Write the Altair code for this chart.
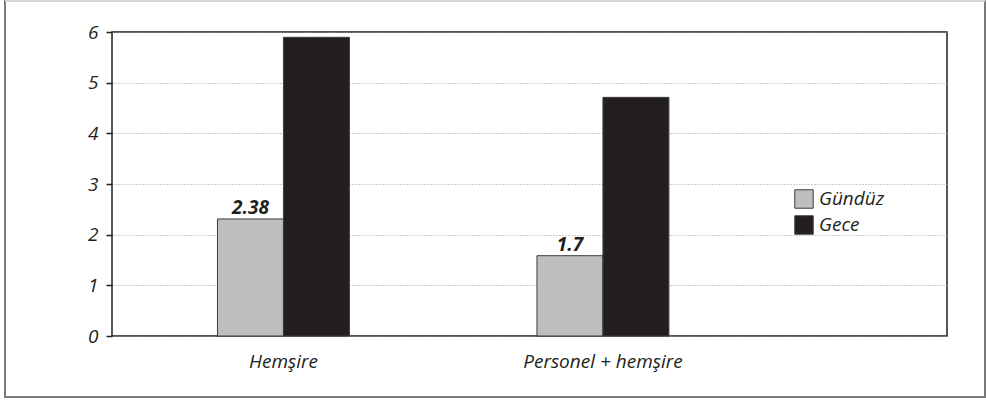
import altair as alt
import pandas as pd

categories = ["Hemşire", "Personel + hemşire"]
series = ["Gündüz", "Gece"]
gunduz_values = [2.31, 1.585]
gece_values = [5.895, 4.71]
gunduz_labels = ["2.38", "1.7"]
y_ticks = [0, 1, 2, 3, 4, 5, 6]

FONT = "Open Sans"
GRAY = "#bcbec0"
BLACK = "#231f20"
FS = 19

rows = []
for i, c in enumerate(categories):
    rows.append({"cat": c, "series": "Gündüz", "value": gunduz_values[i], "label": gunduz_labels[i]})
    rows.append({"cat": c, "series": "Gece", "value": gece_values[i], "label": ""})
df = pd.DataFrame(rows)

W, H = 835, 304

xscale = alt.Scale(domain=categories, paddingInner=0.587, paddingOuter=0.6003, align=0.275)
offscale = alt.Scale(domain=series, paddingInner=0, paddingOuter=0)

bars = alt.Chart(df).mark_bar(stroke="#3c3c3c", strokeWidth=1).encode(
    x=alt.X("cat:N", scale=xscale, sort=categories,
            axis=alt.Axis(title=None, ticks=False, domain=False, labelAngle=0,
                          labelFont=FONT, labelFontStyle="italic", labelFontSize=FS,
                          labelColor=BLACK, labelPadding=16)),
    xOffset=alt.XOffset("series:N", sort=series, scale=offscale),
    y=alt.Y("value:Q", scale=alt.Scale(domain=[0, 6], nice=False),
            axis=alt.Axis(title=None, values=y_ticks, tickSize=6, tickColor=BLACK, tickWidth=1.5,
                          domain=False, grid=True, gridColor="#9a9a9a", gridDash=[1, 2], gridWidth=1,
                          labelFont=FONT, labelFontStyle="italic", labelFontSize=FS,
                          labelColor=BLACK, labelPadding=8)),
    color=alt.Color("series:N", sort=series,
                    scale=alt.Scale(domain=series, range=[GRAY, BLACK]),
                    legend=alt.Legend(title=None, orient="none", legendX=682, legendY=157,
                                      symbolType="square", symbolSize=340,
                                      symbolStrokeColor="#3c3c3c", symbolStrokeWidth=1,
                                      labelFont=FONT, labelFontStyle="italic", labelFontSize=FS,
                                      labelColor=BLACK, labelOffset=5, rowPadding=2)),
)

texts = alt.Chart(df[df["label"] != ""]).mark_text(
    font=FONT, fontStyle="italic", fontWeight="bold", fontSize=FS, color=BLACK,
    baseline="alphabetic", dy=-5
).encode(
    x=alt.X("cat:N", scale=xscale, sort=categories),
    xOffset=alt.XOffset("series:N", sort=series, scale=offscale),
    y=alt.Y("value:Q"),
    text="label:N",
)

frame_df = pd.DataFrame({"a": [0]})
frame = alt.Chart(frame_df).mark_rect(fill=None, stroke="#7a7a7a", strokeWidth=2).encode(
    x=alt.value(-107), x2=alt.value(873), y=alt.value(-31), y2=alt.value(365)
)
top_line = alt.Chart(frame_df).mark_rule(stroke="#d6d6d6", strokeWidth=2).encode(
    x=alt.value(-107), x2=alt.value(873), y=alt.value(-31)
)

chart = alt.layer(frame, top_line, bars, texts).properties(
    width=W, height=H,
    autosize=alt.AutoSizeParams(type="none"),
    padding={"left": 112, "top": 32, "right": 39, "bottom": 65},
    background="white",
).configure_view(stroke=BLACK, strokeWidth=1.5)

chart.save("out.html", embed_options={"renderer": "svg", "actions": False})
